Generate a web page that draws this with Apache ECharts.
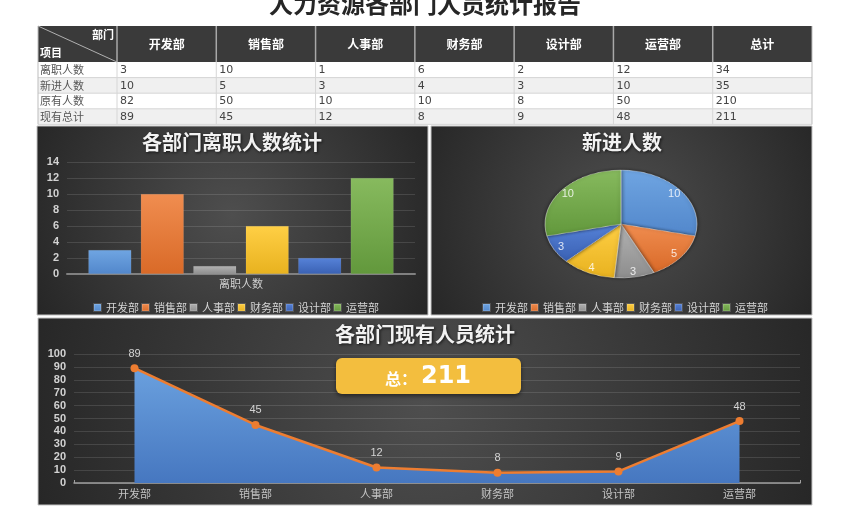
<!DOCTYPE html>
<html>
<head>
<meta charset="utf-8">
<script src="https://cdn.jsdelivr.net/npm/echarts/dist/echarts.min.js"></script>
<style>
html,body{margin:0;padding:0;background:#fff;}
#main{position:absolute;left:0;top:0;width:850px;height:524px;}
#pie{position:absolute;left:536px;top:139px;width:170px;height:170px;transform:scaleY(0.71);transform-origin:50% 50%;}
#pielbl{position:absolute;left:0;top:0;width:850px;height:524px;pointer-events:none;}
</style>
</head>
<body>
<div id="main"></div>
<div id="pie"></div>
<div id="pielbl"></div>
<script>
// ---------------- DATA ----------------
const reportTitle = '人力资源各部门人员统计报告';
const depts = ['开发部', '销售部', '人事部', '财务部', '设计部', '运营部'];
const rowLabels = ['离职人数', '新进人数', '原有人数', '现有总计'];
const leaveCounts = [3, 10, 1, 6, 2, 12];
const newCounts = [10, 5, 3, 4, 3, 10];
const originalCounts = [82, 50, 10, 10, 8, 50];
const currentCounts = [89, 45, 12, 8, 9, 48];
const rowTotals = [34, 35, 210, 211];
const barCategory = ['离职人数'];
const barTicks = { min: 0, max: 14, interval: 2 };
const lineTicks = { min: 0, max: 100, interval: 10 };
const grandTotal = 211;

// ---------------- STYLE ----------------
const CJK = "'Noto Sans CJK SC', sans-serif";
const NUM = "'Liberation Sans', Arial, sans-serif";
const gradStops = [
  ['#6fa5e2', '#5287cb'],
  ['#f08d50', '#d96a28'],
  ['#b3b3b3', '#8d8d8d'],
  ['#ffcf45', '#e8b21f'],
  ['#5682d8', '#3a61b3'],
  ['#87ba5e', '#62983c']
];
function vgrad(a, b) {
  return new echarts.graphic.LinearGradient(0, 0, 0, 1, [{ offset: 0, color: a }, { offset: 1, color: b }]);
}
function panel(x, y, w, h, cx, cy, r) {
  return {
    type: 'rect', z: -20,
    shape: { x: x, y: y, width: w, height: h },
    style: {
      fill: new echarts.graphic.RadialGradient(cx, cy, r, [
        { offset: 0, color: '#4e4e4e' }, { offset: 1, color: '#242424' }
      ], true),
      stroke: '#c4c4c4', lineWidth: 1
    }
  };
}
function txt(s, x, y, font, fill, align) {
  return {
    type: 'text', z: 5, x: x, y: y,
    style: {
      text: String(s), font: font, fill: fill,
      align: align, textAlign: align, verticalAlign: 'middle', textVerticalAlign: 'middle'
    }
  };
}
function line(x1, y1, x2, y2, c, w) {
  return { type: 'line', z: 4, shape: { x1: x1, y1: y1, x2: x2, y2: y2 }, style: { stroke: c, lineWidth: w } };
}

// ---------------- TABLE ----------------
const tL = 38, tR = 812, hTop = 26, hBot = 62, rowH = 15.6, firstW = 79;
const colW = (tR - tL - firstW) / 7;
const colX = [tL, tL + firstW];
for (let i = 1; i <= 7; i++) colX.push(tL + firstW + colW * i);
const els = [];
els.push(panel(37, 126, 391, 189, 232, 215, 230));
els.push(panel(431, 126, 381, 189, 622, 215, 230));
els.push(panel(38, 318, 774, 187, 425, 405, 430));
els.push({ type: 'rect', z: 1, shape: { x: tL, y: hTop, width: tR - tL, height: hBot - hTop }, style: { fill: '#3a3a3a' } });
const bodyRows = [leaveCounts, newCounts, originalCounts, currentCounts];
for (let r = 0; r < 4; r++) {
  const y = hBot + r * rowH;
  els.push({ type: 'rect', z: 1, shape: { x: tL, y: y, width: tR - tL, height: rowH }, style: { fill: r % 2 ? '#f0f0f0' : '#ffffff' } });
  els.push(line(tL, y + rowH, tR, y + rowH, '#d6d6d6', 1));
  els.push(txt(rowLabels[r], tL + 2, y + rowH / 2, '11px ' + CJK, '#555', 'left'));
  const vals = bodyRows[r].concat([rowTotals[r]]);
  vals.forEach(function (v, c) {
    els.push(txt(v, colX[c + 1] + 3, y + rowH / 2 + 0.5, "11px 'DejaVu Sans', sans-serif", '#444', 'left'));
  });
}
for (let c = 1; c < colX.length - 1; c++) {
  els.push(line(colX[c], hTop, colX[c], hBot, '#a8a8a8', 1.5));
  els.push(line(colX[c], hBot, colX[c], hBot + 4 * rowH, '#d6d6d6', 1));
}
els.push(line(tL, hTop, tL, hBot + 4 * rowH, '#bdbdbd', 1));
els.push(line(tR, hTop, tR, hBot + 4 * rowH, '#bdbdbd', 1));
els.push(line(tL, hTop, tL + firstW, hBot, '#b0b0b0', 1));
els.push(txt('部门', tL + firstW - 3, hTop + 9, 'bold 11px ' + CJK, '#fff', 'right'));
els.push(txt('项目', tL + 2, hBot - 9, 'bold 11px ' + CJK, '#fff', 'left'));
depts.concat(['总计']).forEach(function (d, c) {
  els.push(txt(d, colX[c + 1] + colW / 2, (hTop + hBot) / 2, 'bold 12px ' + CJK, '#fff', 'center'));
});
// total badge
els.push({
  type: 'rect', z: 50, shape: { x: 336, y: 358, width: 185, height: 36, r: 6 },
  style: { fill: '#f3be3e', shadowBlur: 4, shadowColor: 'rgba(0,0,0,0.5)', shadowOffsetY: 2 }
});
els.push({
  type: 'text', z: 51, x: 428, y: 377,
  style: {
    text: '{a|总：}{b|' + grandTotal + '}',
    align: 'center', textAlign: 'center', verticalAlign: 'middle', textVerticalAlign: 'middle',
    rich: {
      a: { fontFamily: CJK, fontWeight: 'bold', fontSize: 16, fill: '#fff', color: '#fff', padding: [3, 4, 0, 0] },
      b: { fontFamily: "'DejaVu Sans', sans-serif", fontWeight: 'bold', fontSize: 24, fill: '#fff', color: '#fff' }
    }
  }
});

const titleShadow = { textShadowColor: 'rgba(0,0,0,0.7)', textShadowBlur: 3, textShadowOffsetX: 1, textShadowOffsetY: 1 };
const axisLbl = { color: '#d2d2d2', fontSize: 11, fontWeight: 'bold', fontFamily: NUM };
const legendCommon = {
  data: depts, top: 297, itemWidth: 7, itemHeight: 7, itemGap: 2, icon: 'rect',
  textStyle: { color: '#d4d4d4', fontSize: 11, fontFamily: CJK },
  selectedMode: false
};

const main = echarts.init(document.getElementById('main'));
main.setOption({
  animation: false,
  title: [
    { text: reportTitle, left: 425, top: -8, textAlign: 'center', padding: 0,
      textStyle: { fontSize: 24, fontWeight: 'bold', color: '#262626', fontFamily: CJK } },
    { text: '各部门离职人数统计', left: 232, top: 132, textAlign: 'center', padding: 0,
      textStyle: Object.assign({ fontSize: 20, fontWeight: 'bold', color: '#f2f2f2', fontFamily: CJK }, titleShadow) },
    { text: '新进人数', left: 622, top: 132, textAlign: 'center', padding: 0,
      textStyle: Object.assign({ fontSize: 20, fontWeight: 'bold', color: '#f2f2f2', fontFamily: CJK }, titleShadow) },
    { text: '各部门现有人员统计', left: 425, top: 324, textAlign: 'center', padding: 0,
      textStyle: Object.assign({ fontSize: 20, fontWeight: 'bold', color: '#f2f2f2', fontFamily: CJK }, titleShadow) }
  ],
  legend: [
    Object.assign({ left: 88 }, legendCommon),
    Object.assign({ left: 477 }, legendCommon)
  ],
  grid: [
    { left: 67, right: 435, top: 162, bottom: 250 },
    { left: 74, right: 50, top: 354, bottom: 41 }
  ],
  xAxis: [
    { type: 'category', gridIndex: 0, data: barCategory,
      axisLine: { lineStyle: { color: '#808080', width: 2 } }, axisTick: { show: false },
      axisLabel: { color: '#cfcfcf', fontSize: 11, fontFamily: CJK, margin: 4 } },
    { type: 'category', gridIndex: 1, data: depts, boundaryGap: true,
      axisLine: { lineStyle: { color: '#a0a0a0', width: 1.5 } },
      axisTick: { show: true, inside: true, length: 3, lineStyle: { color: '#a0a0a0' } },
      axisLabel: { color: '#c4c4c4', fontSize: 11, fontFamily: CJK, margin: 5 } }
  ],
  yAxis: [
    { type: 'value', gridIndex: 0, min: barTicks.min, max: barTicks.max, interval: barTicks.interval,
      axisLine: { show: false }, axisTick: { show: false },
      axisLabel: Object.assign({ margin: 8 }, axisLbl),
      splitLine: { lineStyle: { color: 'rgba(255,255,255,0.12)', width: 1 } } },
    { type: 'value', gridIndex: 1, min: lineTicks.min, max: lineTicks.max, interval: lineTicks.interval,
      axisLine: { show: false }, axisTick: { show: false },
      axisLabel: Object.assign({ margin: 8 }, axisLbl),
      splitLine: { lineStyle: { color: 'rgba(255,255,255,0.12)', width: 1 } } }
  ],
  graphic: { elements: els },
  series: depts.map(function (d, i) {
    return {
      type: 'bar', name: d, xAxisIndex: 0, yAxisIndex: 0,
      data: [leaveCounts[i]], barWidth: 43, barGap: '22%',
      itemStyle: { color: vgrad(gradStops[i][0], gradStops[i][1]), borderColor: 'rgba(255,255,255,0.15)', borderWidth: 0.5 }
    };
  }).concat([{
    type: 'line', name: '现有总计', xAxisIndex: 1, yAxisIndex: 1, data: currentCounts,
    symbol: 'circle', symbolSize: 8, z: 5,
    lineStyle: { color: '#ed7d31', width: 2.5 },
    itemStyle: { color: '#ed7d31' },
    areaStyle: { color: vgrad('#6aa0de', '#4677c0'), opacity: 1 },
    label: { show: true, position: 'top', distance: 5, color: '#d4d4d4', fontSize: 11, fontFamily: NUM }
  }])
});

// pie slices (squashed into an ellipse via CSS)
const PIE_CX = 621, PIE_CY = 224, SQ = 0.71;
const pie = echarts.init(document.getElementById('pie'));
pie.setOption({
  animation: false,
  series: [{
    type: 'pie', radius: 76, center: ['50%', '50%'], startAngle: 90, clockwise: true,
    label: { show: false }, labelLine: { show: false }, silent: true,
    itemStyle: { borderColor: 'rgba(255,255,255,0.45)', borderWidth: 1, shadowBlur: 4, shadowColor: 'rgba(0,0,0,0.6)' },
    data: depts.map(function (d, i) {
      return { name: d, value: newCounts[i], itemStyle: { color: vgrad(gradStops[i][0], gradStops[i][1]) } };
    })
  }]
});

// pie value labels (unsquashed text, placed on the ellipse)
const lbl = echarts.init(document.getElementById('pielbl'));
lbl.setOption({
  animation: false,
  series: [{
    type: 'pie', radius: [0, 130], center: [PIE_CX, PIE_CY], startAngle: 90, clockwise: true,
    silent: true, emphasis: { disabled: true },
    itemStyle: { color: 'rgba(0,0,0,0)' },
    label: { show: true, position: 'inside', color: 'rgba(255,255,255,0.82)', fontSize: 11, fontFamily: NUM, formatter: '{c}' },
    labelLayout: function (p) {
      const r = p.labelRect;
      const cy = r.y + r.height / 2;
      return { dy: (cy - PIE_CY) * (SQ - 1) };
    },
    data: depts.map(function (d, i) { return { name: d, value: newCounts[i] }; })
  }]
});
</script>
</body>
</html>
